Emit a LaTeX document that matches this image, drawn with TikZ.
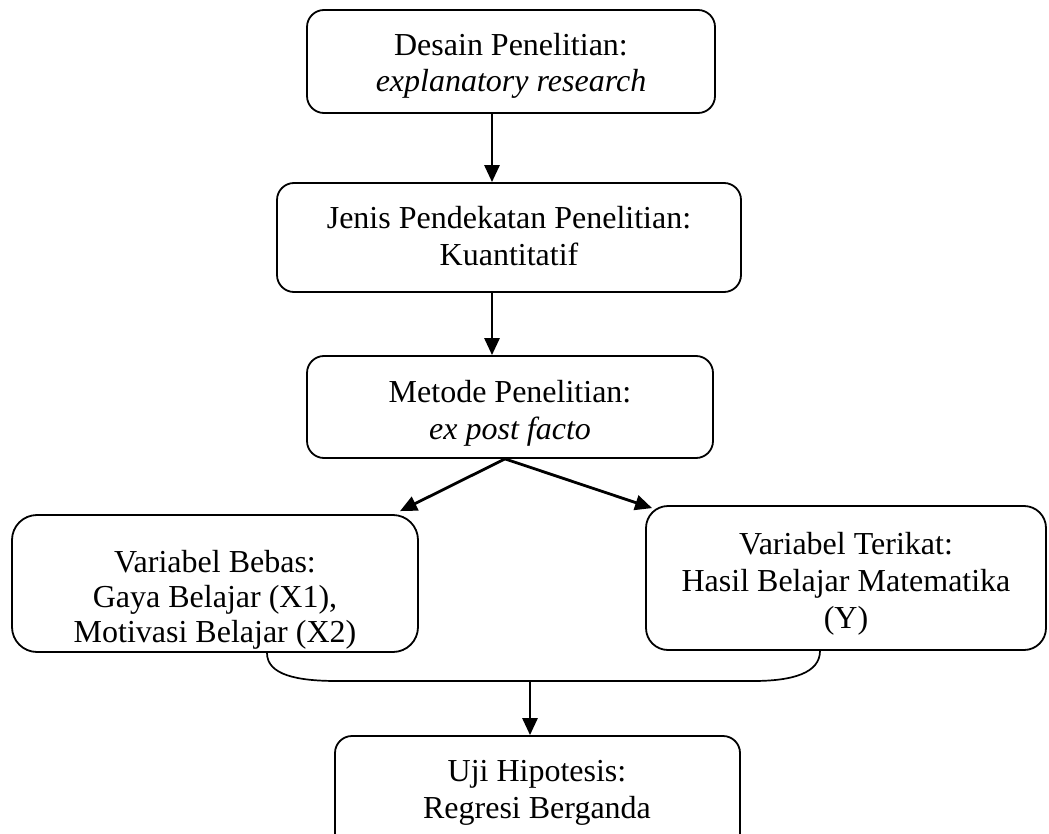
\documentclass[tikz,border=0pt]{standalone}
\usepackage{fontspec}
\setmainfont{Liberation Serif}
\usetikzlibrary{arrows.meta,calc}
\begin{document}
\begin{tikzpicture}[x=1pt,y=-1pt,
  box/.style={draw, line width=1.8pt, rounded corners=17pt, inner sep=0pt},
  txt/.style={align=center, inner sep=0pt},
  arr/.style={line width=2.8pt, -{Triangle[length=17pt,width=15pt]}},
  brace/.style={line width=1.7pt}]
\useasboundingbox (0,0) rectangle (1049,834);
% boxes
\node[box, minimum width=408pt, minimum height=103pt] (b1) at (511,61.5) {};
\node[box, minimum width=464pt, minimum height=109pt] (b2) at (509,237.5) {};
\node[box, minimum width=406pt, minimum height=102pt] (b3) at (510,407) {};
\node[box, rounded corners=25pt, minimum width=406pt, minimum height=137pt] (b4) at (215,583.5) {};
\node[box, rounded corners=22pt, minimum width=400pt, minimum height=144pt] (b5) at (846,578) {};
\node[box, minimum width=405pt, minimum height=114pt] (b6) at (537.5,793) {};
% texts
\node[txt, font=\fontsize{32}{36}\selectfont] (t1) at (511,66) {Desain Penelitian:\\\textit{explanatory research}};
\node[txt, font=\fontsize{32}{37}\selectfont] (t2) at (509,236) {Jenis Pendekatan Penelitian:\\Kuantitatif};
\node[txt, font=\fontsize{32}{37}\selectfont] (t3) at (510,413) {Metode Penelitian:\\\textit{ex post facto}};
\node[txt, font=\fontsize{32}{35}\selectfont] (t4) at (215,600) {Variabel Bebas:\\Gaya Belajar (X1),\\Motivasi Belajar (X2)};
\node[txt, font=\fontsize{32}{37}\selectfont] (t5) at (846,584) {Variabel Terikat:\\Hasil Belajar Matematika\\(Y)};
\node[txt, font=\fontsize{32}{37}\selectfont] (t6) at (537,793) {Uji Hipotesis:\\Regresi Berganda};
% arrows
\draw[arr] ([xshift=-19pt]b1.south) -- ([xshift=-19pt]b1.south |- b2.north);
\draw[arr] ([xshift=-17pt]b2.south) -- ([xshift=-17pt]b2.south |- b3.north);
\coordinate (F) at ([xshift=-5pt]b3.south);
\draw[arr] (F) -- ([xshift=185pt,yshift=3pt]b4.north);
\draw[arr] (F) -- ([xshift=7pt,yshift=-3pt]b5.north west);
% brace
\coordinate (A) at ([xshift=52pt]b4.south);
\coordinate (B) at ([xshift=-26pt]b5.south);
\coordinate (L) at (337,681);
\coordinate (R) at (753,681);
\coordinate (M) at (530,681);
\draw[brace] (A) .. controls +(0,22) and +(-40,0) .. (L) -- (R) .. controls +(40,0) and +(0,22) .. (B);
\draw[arr] (M) -- (M |- b6.north);
\end{tikzpicture}
\end{document}
